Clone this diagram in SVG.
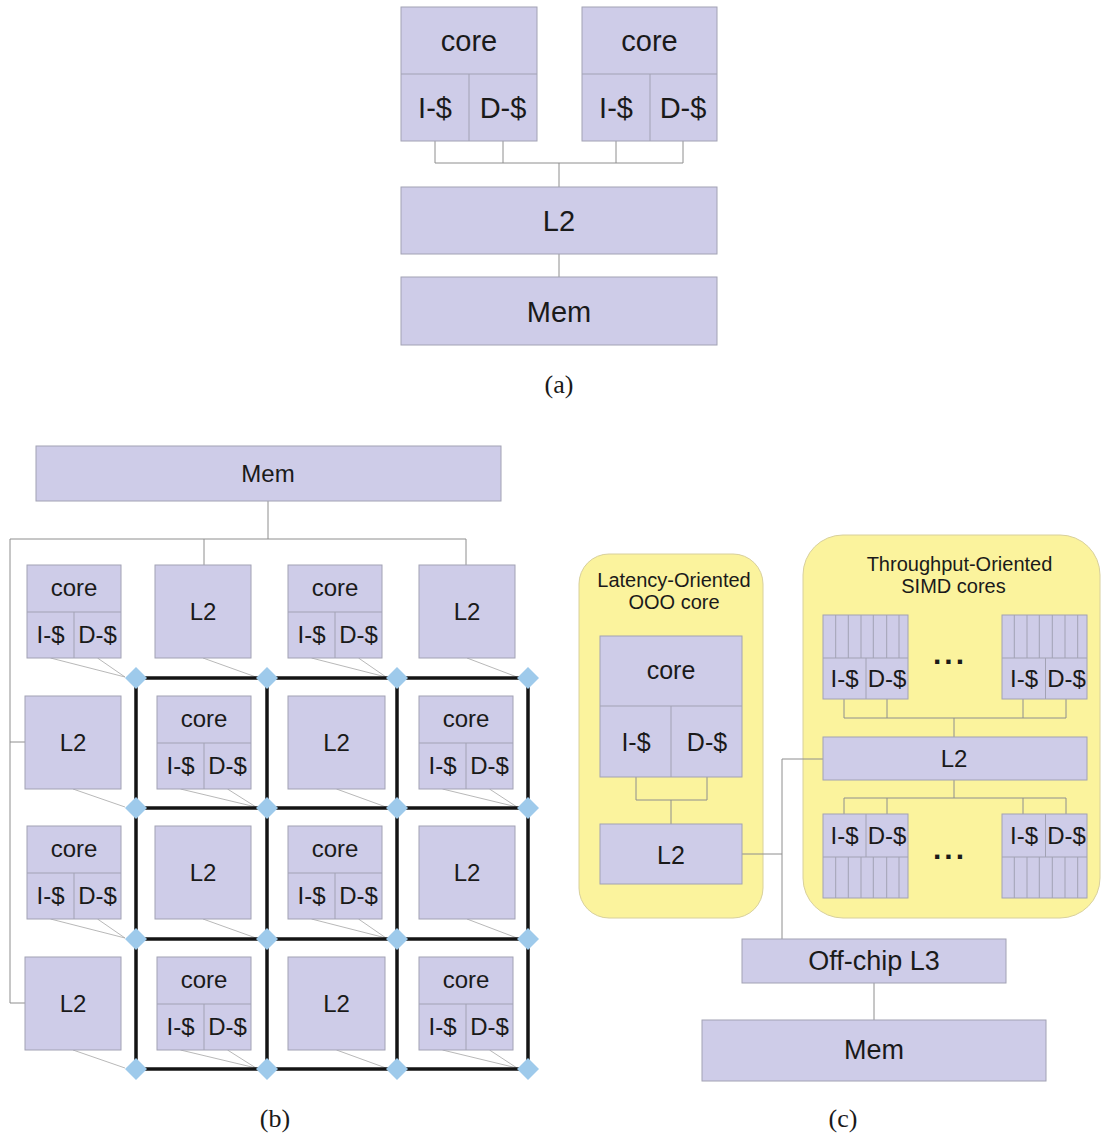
<svg xmlns="http://www.w3.org/2000/svg" xmlns:xlink="http://www.w3.org/1999/xlink" width="1102" height="1135" viewBox="0 0 1102 1135">
<style>
.box{fill:#cecce8;stroke:#a2a2b4;stroke-width:1}
.sep{stroke:#a2a2b4;stroke-width:1;fill:none}
.ln{stroke:#8e8e8e;stroke-width:1;fill:none}
.thin{stroke:#a6a6a6;stroke-width:0.8;fill:none}
.grid{stroke:#141414;stroke-width:3.5;fill:none}
.dia{fill:#9ecaeb}
.yel{fill:#fbf39d;stroke:#d8d09c;stroke-width:1}
text{font-family:"Liberation Sans",Arial,sans-serif;fill:#1a1a1a;text-anchor:middle}
.a{font-size:29px}
.b{font-size:24px}
.c{font-size:25px}
.s{font-size:20px}
.cap{font-family:"Liberation Serif","Times New Roman",serif;font-size:26px}
.dots{font-size:30px;font-weight:bold;letter-spacing:3px}
</style>
<defs>
<polygon id="dm" class="dia" points="0,-11 11,0 0,11 -11,0"/>
</defs>
<rect width="1102" height="1135" fill="#ffffff"/>

<!-- ===== (a) ===== -->
<g id="connectors-a">
<path class="ln" d="M435,141V163M503,141V163M616,141V163M683,141V163M435,163H683M559,163V187M559,254V277"/>
</g>
<g id="a-core1">
<rect class="box" x="401" y="7" width="136" height="134"/>
<path class="sep" d="M401,74H537M469,74V141"/>
<text class="a" x="469" y="51">core</text>
<text class="a" x="435" y="118">I-$</text>
<text class="a" x="503" y="118">D-$</text>
</g>
<g id="a-core2">
<rect class="box" x="582" y="7" width="135" height="134"/>
<path class="sep" d="M582,74H717M650,74V141"/>
<text class="a" x="649.5" y="51">core</text>
<text class="a" x="616" y="118">I-$</text>
<text class="a" x="683" y="118">D-$</text>
</g>
<g id="a-l2">
<rect class="box" x="401" y="187" width="316" height="67"/>
<text class="a" x="559" y="231">L2</text>
</g>
<g id="a-mem">
<rect class="box" x="401" y="277" width="316" height="68"/>
<text class="a" x="559" y="322">Mem</text>
</g>
<text class="cap" x="559" y="393">(a)</text>

<!-- ===== (b) ===== -->
<g id="connectors-b">
<path class="ln" d="M268,501V539M10,539H466M204,539V565M466,539V565M10,539V1003M10,742H25M10,1003H25"/>
<path class="thin" d="M50.5,658L125,677M97.5,658L125,677M203,658L256,677M311.5,658L386,677M358.5,658L386,677M467,658L517,677
M73,789L125,807M180.5,789L256,807M227.5,789L256,807M336.5,789L386,807M442.5,789L517,807M489.5,789L517,807
M50.5,919L125,938M97.5,919L125,938M203,919L256,938M311.5,919L386,938M358.5,919L386,938M467,919L517,938
M73,1050L125,1068M180.5,1050L256,1068M227.5,1050L256,1068M336.5,1050L386,1068M442.5,1050L517,1068M489.5,1050L517,1068"/>
<path class="grid" d="M136,678H528M136,808H528M136,939H528M136,1069H528M136,678V1069M267,678V1069M397,678V1069M528,678V1069"/>
</g>
<g id="b-mem">
<rect class="box" x="36" y="446" width="465" height="55"/>
<text class="b" x="268" y="482">Mem</text>
</g>
<!-- row 0 -->
<g id="b-core-r0c0">
<rect class="box" x="27" y="565" width="94" height="93"/>
<path class="sep" d="M27,612H121M74,612V658"/>
<text class="b" x="74" y="596">core</text>
<text class="b" x="50.5" y="643">I-$</text>
<text class="b" x="97.5" y="643">D-$</text>
</g>
<g id="b-l2-r0c1">
<rect class="box" x="155" y="565" width="96" height="93"/>
<text class="b" x="203" y="620">L2</text>
</g>
<g id="b-core-r0c2">
<rect class="box" x="288" y="565" width="94" height="93"/>
<path class="sep" d="M288,612H382M335,612V658"/>
<text class="b" x="335" y="596">core</text>
<text class="b" x="311.5" y="643">I-$</text>
<text class="b" x="358.5" y="643">D-$</text>
</g>
<g id="b-l2-r0c3">
<rect class="box" x="419" y="565" width="96" height="93"/>
<text class="b" x="467" y="620">L2</text>
</g>
<!-- row 1 -->
<g id="b-l2-r1c0">
<rect class="box" x="25" y="696" width="96" height="93"/>
<text class="b" x="73" y="751">L2</text>
</g>
<g id="b-core-r1c1">
<rect class="box" x="157" y="696" width="94" height="93"/>
<path class="sep" d="M157,743H251M204,743V789"/>
<text class="b" x="204" y="727">core</text>
<text class="b" x="180.5" y="774">I-$</text>
<text class="b" x="227.5" y="774">D-$</text>
</g>
<g id="b-l2-r1c2">
<rect class="box" x="288" y="696" width="97" height="93"/>
<text class="b" x="336.5" y="751">L2</text>
</g>
<g id="b-core-r1c3">
<rect class="box" x="419" y="696" width="94" height="93"/>
<path class="sep" d="M419,743H513M466,743V789"/>
<text class="b" x="466" y="727">core</text>
<text class="b" x="442.5" y="774">I-$</text>
<text class="b" x="489.5" y="774">D-$</text>
</g>
<!-- row 2 -->
<g id="b-core-r2c0">
<rect class="box" x="27" y="826" width="94" height="93"/>
<path class="sep" d="M27,873H121M74,873V919"/>
<text class="b" x="74" y="857">core</text>
<text class="b" x="50.5" y="904">I-$</text>
<text class="b" x="97.5" y="904">D-$</text>
</g>
<g id="b-l2-r2c1">
<rect class="box" x="155" y="826" width="96" height="93"/>
<text class="b" x="203" y="881">L2</text>
</g>
<g id="b-core-r2c2">
<rect class="box" x="288" y="826" width="94" height="93"/>
<path class="sep" d="M288,873H382M335,873V919"/>
<text class="b" x="335" y="857">core</text>
<text class="b" x="311.5" y="904">I-$</text>
<text class="b" x="358.5" y="904">D-$</text>
</g>
<g id="b-l2-r2c3">
<rect class="box" x="419" y="826" width="96" height="93"/>
<text class="b" x="467" y="881">L2</text>
</g>
<!-- row 3 -->
<g id="b-l2-r3c0">
<rect class="box" x="25" y="957" width="96" height="93"/>
<text class="b" x="73" y="1012">L2</text>
</g>
<g id="b-core-r3c1">
<rect class="box" x="157" y="957" width="94" height="93"/>
<path class="sep" d="M157,1004H251M204,1004V1050"/>
<text class="b" x="204" y="988">core</text>
<text class="b" x="180.5" y="1035">I-$</text>
<text class="b" x="227.5" y="1035">D-$</text>
</g>
<g id="b-l2-r3c2">
<rect class="box" x="288" y="957" width="97" height="93"/>
<text class="b" x="336.5" y="1012">L2</text>
</g>
<g id="b-core-r3c3">
<rect class="box" x="419" y="957" width="94" height="93"/>
<path class="sep" d="M419,1004H513M466,1004V1050"/>
<text class="b" x="466" y="988">core</text>
<text class="b" x="442.5" y="1035">I-$</text>
<text class="b" x="489.5" y="1035">D-$</text>
</g>
<g id="b-routers">
<use xlink:href="#dm" x="136" y="678"/><use xlink:href="#dm" x="267" y="678"/><use xlink:href="#dm" x="397" y="678"/><use xlink:href="#dm" x="528" y="678"/>
<use xlink:href="#dm" x="136" y="808"/><use xlink:href="#dm" x="267" y="808"/><use xlink:href="#dm" x="397" y="808"/><use xlink:href="#dm" x="528" y="808"/>
<use xlink:href="#dm" x="136" y="939"/><use xlink:href="#dm" x="267" y="939"/><use xlink:href="#dm" x="397" y="939"/><use xlink:href="#dm" x="528" y="939"/>
<use xlink:href="#dm" x="136" y="1069"/><use xlink:href="#dm" x="267" y="1069"/><use xlink:href="#dm" x="397" y="1069"/><use xlink:href="#dm" x="528" y="1069"/>
</g>
<text class="cap" x="275" y="1127">(b)</text>

<!-- ===== (c) ===== -->
<g id="c-latency-group">
<rect class="yel" x="579" y="554" width="184" height="364" rx="30" ry="30"/>
<text class="s" x="674" y="587">Latency-Oriented</text>
<text class="s" x="674" y="609">OOO core</text>
</g>
<g id="c-throughput-group">
<rect class="yel" x="803" y="535" width="297" height="383" rx="40" ry="40"/>
<text class="s" x="959.5" y="571">Throughput-Oriented</text>
<text class="s" x="953.5" y="593">SIMD cores</text>
</g>
<g id="connectors-c">
<path class="ln" d="M636,777V800M707,777V800M636,800H707M671,800V824M742,854H782M782,759V939M782,759H823
M844,699V718M887,699V718M1023,699V718M1066,699V718M844,718H1066M954,718V737
M954,780V798M844,798H1066M844,798V814M887,798V814M1023,798V814M1066,798V814M874,983V1020"/>
</g>
<g id="c-ooo-core">
<rect class="box" x="600" y="636" width="142" height="141"/>
<path class="sep" d="M600,706H742M671,706V777"/>
<text class="c" x="671" y="679">core</text>
<text class="c" x="636" y="751">I-$</text>
<text class="c" x="707" y="751">D-$</text>
</g>
<g id="c-ooo-l2">
<rect class="box" x="600" y="824" width="142" height="60"/>
<text class="c" x="671" y="864">L2</text>
</g>
<g id="c-simd-tl">
<rect class="box" x="823" y="615" width="85" height="84"/>
<path class="sep" d="M823,658H908M866,658V699M835.7,615V658M848.3,615V658M861,615V658M873.3,615V658M886.7,615V658M899,615V658"/>
<text class="b" x="844.5" y="687">I-$</text>
<text class="b" x="887" y="687">D-$</text>
</g>
<g id="c-simd-tr">
<rect class="box" x="1002" y="615" width="85" height="84"/>
<path class="sep" d="M1002,658H1087M1045.5,658V699M1014.3,615V658M1027,615V658M1039.3,615V658M1052.3,615V658M1065,615V658M1077.7,615V658"/>
<text class="b" x="1024" y="687">I-$</text>
<text class="b" x="1066.5" y="687">D-$</text>
</g>
<text class="dots" x="950" y="664">...</text>
<g id="c-simd-l2">
<rect class="box" x="823" y="737" width="264" height="43"/>
<text class="b" x="954" y="767">L2</text>
</g>
<g id="c-simd-bl">
<rect class="box" x="823" y="814" width="85" height="84"/>
<path class="sep" d="M823,857H908M866,814V857M835.7,857V898M848.3,857V898M861,857V898M873.3,857V898M886.7,857V898M899,857V898"/>
<text class="b" x="844.5" y="844">I-$</text>
<text class="b" x="887" y="844">D-$</text>
</g>
<g id="c-simd-br">
<rect class="box" x="1002" y="814" width="85" height="84"/>
<path class="sep" d="M1002,857H1087M1045.5,814V857M1014.3,857V898M1027,857V898M1039.3,857V898M1052.3,857V898M1065,857V898M1077.7,857V898"/>
<text class="b" x="1024" y="844">I-$</text>
<text class="b" x="1066.5" y="844">D-$</text>
</g>
<text class="dots" x="950" y="859">...</text>
<g id="c-l3">
<rect class="box" x="742" y="939" width="264" height="44"/>
<text class="c" x="874" y="970" style="font-size:27px">Off-chip L3</text>
</g>
<g id="c-mem">
<rect class="box" x="702" y="1020" width="344" height="61"/>
<text class="c" x="874" y="1059" style="font-size:27px">Mem</text>
</g>
<text class="cap" x="843" y="1127">(c)</text>
</svg>
